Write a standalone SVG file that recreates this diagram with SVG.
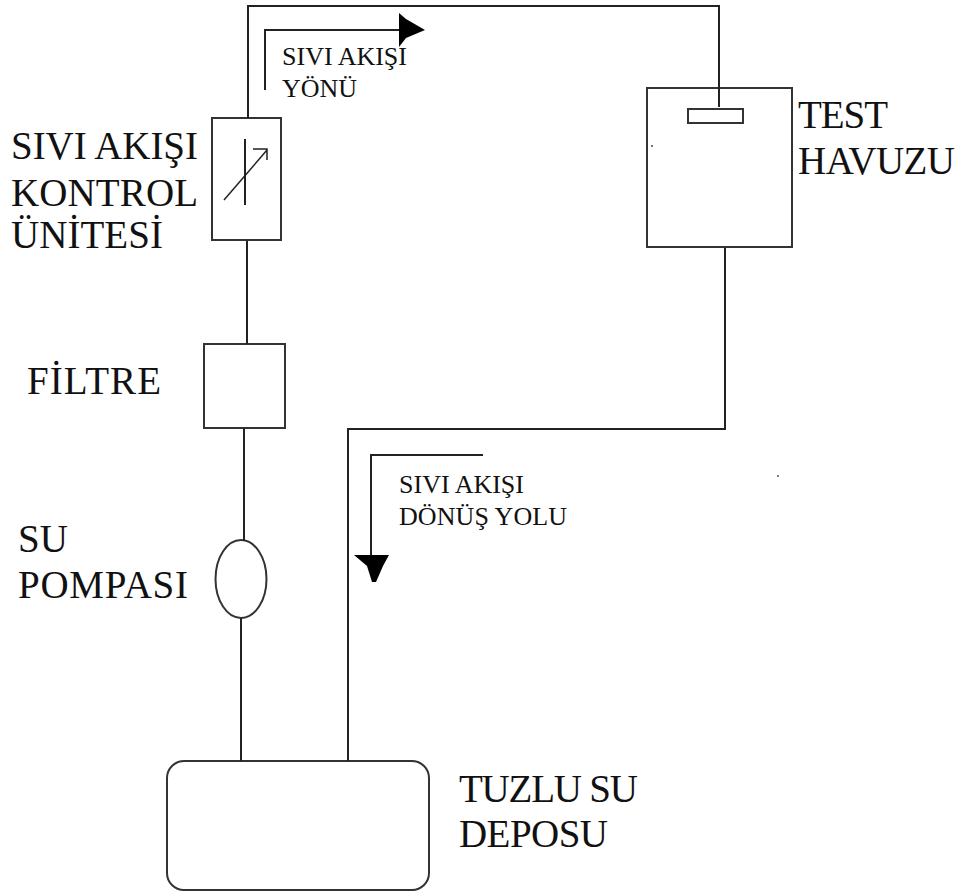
<svg xmlns="http://www.w3.org/2000/svg" width="964" height="896" viewBox="0 0 964 896">
<style>
.s{fill:none;stroke:#222;stroke-width:2}
.w{fill:#fff;stroke:#333;stroke-width:2}
.a{fill:#000;stroke:none}
.t{font-family:"Liberation Serif",serif;fill:#111}
.l{font-size:39px}
.m{font-size:26px}
</style>
<rect width="964" height="896" fill="#fff"/>
<g id="control-unit">
<rect class="w" x="212" y="118" width="69" height="122"/>
<path class="s" d="M245 139V205"/>
<path class="s" stroke-width="1.500" style="stroke-width:1.500" d="M224 200L267 150M253 149H267V160"/>
<text class="t l" x="11" y="159" textLength="187">SIVI AKIŞI</text>
<text class="t l" x="11" y="206" textLength="187">KONTROL</text>
<text class="t l" x="11" y="248" textLength="152">ÜNİTESİ</text>
</g>
<g id="filter">
<rect class="w" x="204" y="344" width="81" height="84"/>
<text class="t l" x="27" y="394" textLength="134">FİLTRE</text>
</g>
<g id="pump">
<ellipse class="w" cx="241" cy="579" rx="25.500" ry="39"/>
<text class="t l" x="18" y="552">SU</text>
<text class="t l" x="18" y="598" textLength="170">POMPASI</text>
</g>
<g id="test-pool">
<rect class="w" x="647" y="88" width="145" height="159"/>
<rect class="w" x="688" y="109" width="55" height="14"/>
<circle cx="652" cy="146" r="1" fill="#444"/>
<text class="t l" x="798" y="128" textLength="90">TEST</text>
<text class="t l" x="798" y="174" textLength="157">HAVUZU</text>
</g>
<g id="tank">
<rect class="w" x="167" y="761" width="262" height="129" rx="17" ry="17"/>
<text class="t l" x="459" y="802" textLength="179">TUZLU SU</text>
<text class="t l" x="459" y="847" textLength="149">DEPOSU</text>
</g>
<g id="connectors">
<path class="s" d="M248 118V6H719V107"/>
<path class="s" d="M247 241V344"/>
<path class="s" d="M244 428V541"/>
<path class="s" d="M241 618V761"/>
<path class="s" d="M725 248V429H348V761"/>
<path class="s" d="M265 90V30H400"/>
<path class="a" d="M399 13L406 19L425 30L406 38L399 47Z"/>
<path class="s" d="M371 555V455H483"/>
<path class="a" d="M354 555H389L383 566L376 582H372L367 566Z"/>
</g>
<g id="flow-label-1">
<text class="t m" x="282" y="65" textLength="125">SIVI AKIŞI</text>
<text class="t m" x="282" y="97" textLength="75">YÖNÜ</text>
</g>
<g id="flow-label-2">
<text class="t m" x="399" y="493" textLength="125">SIVI AKIŞI</text>
<text class="t m" x="399" y="525" textLength="168">DÖNÜŞ YOLU</text>
</g>
<circle cx="778" cy="476" r="1" fill="#555"/>
</svg>
